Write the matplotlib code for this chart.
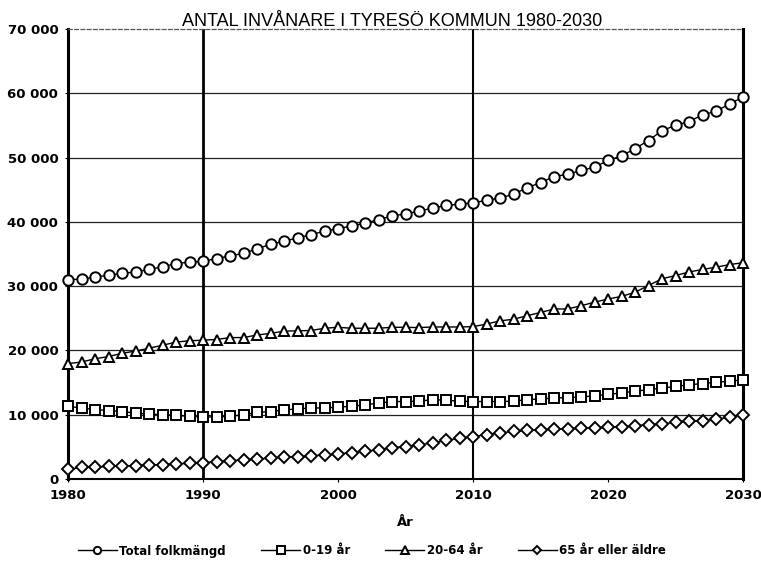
import matplotlib
matplotlib.use("Agg")
import matplotlib.pyplot as plt
from matplotlib.ticker import FuncFormatter, MultipleLocator

years = list(range(1980, 2031))

total = [31000, 31100, 31400, 31700, 32000, 32200, 32600, 33000, 33500, 33750,
         33850, 34300, 34700, 35100, 35800, 36500, 37000, 37500, 38000, 38550,
         38950, 39350, 39800, 40350, 40900, 41250, 41650, 42150, 42550, 42750,
         42950, 43350, 43700, 44300, 45300, 46100, 47050, 47400, 48000, 48500,
         49550, 50250, 51400, 52650, 54200, 55000, 55600, 56650, 57200, 58350,
         59400]

age_0_19 = [11300, 11050, 10800, 10650, 10500, 10250, 10100, 10000, 9900, 9750,
            9650, 9650, 9750, 10000, 10350, 10500, 10750, 10900, 11050, 11050,
            11200, 11300, 11550, 11800, 12050, 12050, 12100, 12350, 12250, 12100,
            12050, 12050, 12050, 12100, 12350, 12450, 12600, 12650, 12750, 12950,
            13150, 13400, 13650, 13900, 14150, 14400, 14650, 14850, 15050, 15200,
            15450]

age_20_64 = [17950, 18200, 18700, 19050, 19550, 19900, 20350, 20800, 21300, 21500,
             21600, 21700, 22000, 22000, 22400, 22650, 23000, 23050, 23100, 23450,
             23600, 23450, 23450, 23450, 23600, 23600, 23550, 23650, 23650, 23650,
             23700, 24100, 24600, 24850, 25400, 25900, 26450, 26450, 26950, 27500,
             28000, 28400, 29050, 30100, 31150, 31650, 32200, 32600, 32950, 33350,
             33650]

age_65 = [1500, 1800, 1850, 1950, 2050, 2100, 2200, 2250, 2350, 2450,
          2550, 2700, 2850, 2950, 3100, 3250, 3400, 3500, 3600, 3750,
          3900, 4100, 4300, 4550, 4900, 5050, 5300, 5600, 6000, 6350,
          6600, 6900, 7150, 7400, 7550, 7650, 7750, 7800, 7900, 7950,
          8050, 8150, 8300, 8450, 8600, 8800, 8950, 9100, 9300, 9600,
          10000]

labels = ["Total folkmängd", "0-19 år", "20-64 år", "65 år eller äldre"]
markers = ["o", "s", "^", "D"]
sizes = [7.5, 7.5, 7.5, 6.5]

fig = plt.figure(figsize=(7.61, 5.67), dpi=100)
ax = fig.add_axes([68 / 761, 1 - 479 / 567, 675 / 761, 450 / 567])

for vals, lab, m, ms in zip([total, age_0_19, age_20_64, age_65], labels, markers, sizes):
    ax.plot(years, vals, color="black", lw=1.0, marker=m, markersize=ms,
            markerfacecolor="white", markeredgecolor="black", markeredgewidth=1.4,
            label=lab, clip_on=False, zorder=3)

ax.set_xlim(1980, 2030)
ax.set_ylim(0, 70000)
ax.xaxis.set_major_locator(MultipleLocator(10))
ax.yaxis.set_major_locator(MultipleLocator(10000))
ax.yaxis.set_major_formatter(FuncFormatter(lambda v, p: f"{int(v):,}".replace(",", " ")))

# horizontal gridlines
for yv in range(10000, 70000, 10000):
    ax.axhline(yv, color="#222222", lw=0.9, zorder=1)
# vertical lines at 1990 and 2010
ax.axvline(1990, color="black", lw=2.0, zorder=2)
ax.axvline(2010, color="black", lw=1.5, zorder=2)

for s in ["left", "right"]:
    ax.spines[s].set_linewidth(2.2)
ax.spines["bottom"].set_linewidth(1.5)
ax.spines["top"].set_linewidth(0.9)
ax.spines["top"].set_linestyle((0, (3, 2)))
ax.spines["top"].set_color("#555555")

ax.tick_params(axis="both", length=2, width=0.8, pad=5)
for lab in ax.get_xticklabels() + ax.get_yticklabels():
    lab.set_fontweight("bold")
    lab.set_fontsize(9.5)

ax.set_xlabel("År", fontsize=9.5, fontweight="bold", labelpad=10)

fig.text(392 / 761, 1 - 21 / 567, "ANTAL INVÅNARE I TYRESÖ KOMMUN 1980-2030",
         ha="center", va="center", fontsize=13, family="Liberation Sans")

leg = fig.legend(loc="center", bbox_to_anchor=(372 / 761, 1 - 551 / 567), ncol=4,
                 frameon=False, prop={"weight": "bold", "size": 8.5},
                 handlelength=3.3, handletextpad=0.2, columnspacing=3.0,
                 markerscale=0.7)

fig.savefig("out.png", dpi=100)
